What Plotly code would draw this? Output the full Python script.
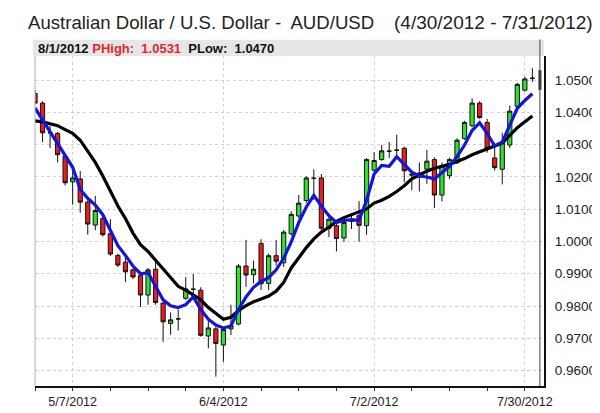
import plotly.graph_objects as go
import pandas as pd

# ---------------- data ----------------
dates = [d.strftime("%Y-%m-%d") for d in pd.bdate_range("2012-04-30", "2012-07-31")]

opens = [1.0459, 1.0429, 1.0337, 1.0335, 1.0264, 1.0185, 1.0194, 1.0122, 1.0051, 1.0071,
         1.0024, 0.9957, 0.9936, 0.9912, 0.9894, 0.9834, 0.9914, 0.9809, 0.9746, 0.9760,
         0.9824, 0.9852, 0.9849, 0.9707, 0.9729, 0.9679, 0.9729, 0.9744, 0.9924, 0.9897,
         0.9994, 0.9870, 0.9956, 0.9934, 1.0024, 1.0079, 1.0127, 1.0196, 1.0197, 1.0041,
         1.0049, 1.0011, 1.0063, 1.0080, 1.0049, 1.0221, 1.0254, 1.0280, 1.0283, 1.0289,
         1.0209, 1.0212, 1.0224, 1.0254, 1.0144, 1.0204, 1.0244, 1.0319, 1.0359, 1.0429,
         1.0369, 1.0259, 1.0224, 1.0299, 1.0419, 1.0469, 1.0506]
highs = [1.0470, 1.0435, 1.0359, 1.0340, 1.0268, 1.0218, 1.0218, 1.0128, 1.0141, 1.0084,
         1.0069, 0.9962, 0.9960, 0.9916, 0.9898, 0.9918, 0.9939, 0.9812, 0.9780, 0.9789,
         0.9889, 0.9899, 0.9858, 0.9759, 0.9735, 0.9732, 0.9804, 0.9930, 1.0005, 0.9941,
         1.0007, 0.9963, 1.0004, 1.0035, 1.0094, 1.0144, 1.0202, 1.0224, 1.0209, 1.0075,
         1.0055, 1.0065, 1.0080, 1.0125, 1.0258, 1.0277, 1.0299, 1.0309, 1.0331, 1.0294,
         1.0219, 1.0245, 1.0284, 1.0261, 1.0245, 1.0260, 1.0320, 1.0374, 1.0444, 1.0435,
         1.0380, 1.0299, 1.0337, 1.0421, 1.0492, 1.0511, 1.0537]
lows = [1.0425, 1.0308, 1.0290, 1.0245, 1.0174, 1.0114, 1.0089, 1.0021, 1.0035, 1.0015,
        0.9955, 0.9921, 0.9874, 0.9884, 0.9797, 0.9804, 0.9804, 0.9689, 0.9711, 0.9724,
        0.9819, 0.9824, 0.9705, 0.9669, 0.9581, 0.9627, 0.9710, 0.9740, 0.9859, 0.9870,
        0.9850, 0.9849, 0.9925, 0.9921, 1.0018, 1.0072, 1.0120, 1.0129, 1.0035, 1.0014,
        0.9969, 0.9999, 1.0039, 0.9999, 1.0021, 1.0215, 1.0250, 1.0259, 1.0264, 1.0184,
        1.0159, 1.0155, 1.0179, 1.0104, 1.0124, 1.0194, 1.0240, 1.0315, 1.0355, 1.0380,
        1.0275, 1.0220, 1.0177, 1.0289, 1.0409, 1.0465, 1.0494]
closes = [1.0429, 1.0337, 1.0337, 1.0269, 1.0182, 1.0197, 1.0122, 1.0054, 1.0096, 1.0021,
          0.9961, 0.9927, 0.9906, 0.9890, 0.9834, 0.9912, 0.9811, 0.9751, 0.9757, 0.9760,
          0.9853, 0.9852, 0.9709, 0.9732, 0.9684, 0.9727, 0.9739, 0.9924, 0.9896, 0.9914,
          0.9869, 0.9956, 0.9939, 1.0029, 1.0084, 1.0119, 1.0197, 1.0196, 1.0041, 1.0069,
          1.0009, 1.0059, 1.0063, 1.0050, 1.0254, 1.0251, 1.0281, 1.0280, 1.0283, 1.0219,
          1.0206, 1.0200, 1.0249, 1.0144, 1.0234, 1.0254, 1.0314, 1.0369, 1.0429, 1.0384,
          1.0289, 1.0229, 1.0309, 1.0404, 1.0487, 1.0504, 1.0506]

ma_fast = [1.0414, 1.0377, 1.0338, 1.0302, 1.0263, 1.0230, 1.0161, 1.0134, 1.0113, 1.0083,
           1.0035, 0.9987, 0.9957, 0.9924, 0.9900, 0.9903, 0.9861, 0.9819, 0.9801, 0.9795,
           0.9804, 0.9828, 0.9789, 0.9759, 0.9741, 0.9732, 0.9738, 0.9789, 0.9828, 0.9858,
           0.9876, 0.9888, 0.9912, 0.9948, 0.9999, 1.0059, 1.0107, 1.0143, 1.0110, 1.0080,
           1.0059, 1.0065, 1.0068, 1.0065, 1.0128, 1.0209, 1.0236, 1.0233, 1.0263, 1.0239,
           1.0215, 1.0203, 1.0200, 1.0194, 1.0215, 1.0233, 1.0263, 1.0299, 1.0344, 1.0368,
           1.0335, 1.0296, 1.0308, 1.0362, 1.0413, 1.0437, 1.0458]
ma_slow = [1.0374, 1.0371, 1.0365, 1.0359, 1.0347, 1.0335, 1.0314, 1.0281, 1.0245, 1.0203,
           1.0155, 1.0110, 1.0071, 1.0026, 0.9990, 0.9969, 0.9942, 0.9915, 0.9885, 0.9861,
           0.9849, 0.9834, 0.9819, 0.9795, 0.9777, 0.9759, 0.9765, 0.9786, 0.9801, 0.9813,
           0.9822, 0.9831, 0.9846, 0.9873, 0.9918, 0.9951, 0.9981, 1.0008, 1.0029, 1.0044,
           1.0062, 1.0074, 1.0083, 1.0092, 1.0101, 1.0119, 1.0128, 1.0140, 1.0155, 1.0173,
           1.0194, 1.0206, 1.0218, 1.0227, 1.0233, 1.0239, 1.0248, 1.0257, 1.0269, 1.0278,
           1.0287, 1.0296, 1.0305, 1.0329, 1.0353, 1.0371, 1.0389]

x_tick_dates = ["2012-05-07", "2012-06-04", "2012-07-02", "2012-07-30"]
x_tick_labels = ["5/7/2012", "6/4/2012", "7/2/2012", "7/30/2012"]
x_minor_dates = ["2012-04-30", "2012-05-14", "2012-05-21", "2012-05-28", "2012-06-11",
                 "2012-06-18", "2012-06-25", "2012-07-09", "2012-07-16", "2012-07-23"]
y_tick_vals = [0.96, 0.97, 0.98, 0.99, 1.00, 1.01, 1.02, 1.03, 1.04, 1.05]
y_tick_labels = ["0.9600", "0.9700", "0.9800", "0.9900", "1.0000",
                 "1.0100", "1.0200", "1.0300", "1.0400", "1.0500"]

last_date = "2012-08-01"
p_high = 1.0531
p_low = 1.0470

title_left = "Australian Dollar / U.S. Dollar -  AUD/USD"
title_right = "(4/30/2012 - 7/31/2012)"

# ---------------- figure ----------------
FONT = "Liberation Sans, Arial, sans-serif"
PLOT_W = 521.0
PLOT_H = 342.0
fig = go.Figure()

fig.add_trace(go.Candlestick(
    x=dates, open=opens, high=highs, low=lows, close=closes,
    increasing=dict(fillcolor="#2ee22e", line=dict(color="#111111", width=1)),
    decreasing=dict(fillcolor="#e81e1e", line=dict(color="#111111", width=1)),
    whiskerwidth=0, showlegend=False, hoverinfo="skip",
))
fig.add_trace(go.Scatter(x=dates, y=ma_slow, mode="lines",
                         line=dict(color="#000000", width=3.2), showlegend=False, hoverinfo="skip"))
fig.add_trace(go.Scatter(x=dates, y=ma_fast, mode="lines",
                         line=dict(color="#1414dc", width=3.2), showlegend=False, hoverinfo="skip"))
fig.add_trace(go.Scatter(x=[last_date, last_date], y=[p_low, p_high], mode="lines",
                         line=dict(color="#333333", width=3), showlegend=False, hoverinfo="skip"))

# cursor line at the last date
fig.add_shape(type="line", xref="x", yref="paper", x0=last_date, x1=last_date,
              y0=0, y1=1.05, line=dict(color="#444444", width=1), layer="above")
# header bar
fig.add_shape(type="rect", xref="paper", yref="paper", x0=-0.004, x1=1.0, y0=1.0, y1=1.049,
              fillcolor="#e6e6e6", line=dict(width=0), layer="below")
# left border
fig.add_shape(type="line", xref="paper", yref="paper", x0=0, x1=0, y0=0, y1=1,
              line=dict(color="#b0b0b0", width=1))

fig.add_annotation(xref="paper", yref="paper", x=0.0, y=1.0,
                   xshift=1, yshift=8, xanchor="left", yanchor="middle",
                   text=("<b>8/1/2012 <span style='color:#e0282c'>PHigh:  %.4f</span>"
                         "  PLow:  %.4f</b>" % (p_high, p_low)),
                   showarrow=False, font=dict(family=FONT, size=13, color="#111111"))

top_y = 1.0 + 48 / PLOT_H
fig.add_annotation(xref="paper", yref="paper", x=-9 / PLOT_W, y=top_y, yshift=0,
                   xanchor="left", yanchor="top", text=title_left, showarrow=False,
                   font=dict(family=FONT, size=18.6, color="#222222"))
fig.add_annotation(xref="paper", yref="paper", x=1.0 + 52 / PLOT_W, y=top_y, yshift=0,
                   xanchor="right", yanchor="top", text=title_right, showarrow=False,
                   font=dict(family=FONT, size=19, color="#222222"))

fig.update_layout(
    width=600, height=413,
    margin=dict(l=27, r=52, t=48, b=23),
    paper_bgcolor="white", plot_bgcolor="white",
    font=dict(family=FONT, size=12, color="#222222"),
    showlegend=False,
    boxgap=0.2,
    xaxis=dict(
        type="date",
        rangeslider=dict(visible=False),
        rangebreaks=[dict(bounds=["sat", "mon"])],
        range=["2012-04-30 00:00", "2012-08-01 13:00"],
        tickmode="array", tickvals=x_tick_dates, ticktext=x_tick_labels,
        ticks="outside", ticklen=3, tickcolor="#333333",
        showgrid=True, gridcolor="#d2d2d2", griddash="dot", gridwidth=1,
        minor=dict(tickmode="array", tickvals=x_minor_dates, ticks="outside",
                   ticklen=3, tickcolor="#333333", showgrid=False),
        showline=True, linecolor="#111111", linewidth=2,
        zeroline=False, fixedrange=True,
        tickfont=dict(size=12.5, color="#222222"),
    ),
    yaxis=dict(
        side="right",
        range=[0.9552, 1.0575],
        tickmode="array", tickvals=y_tick_vals, ticktext=y_tick_labels,
        ticks="", ticklabelstandoff=6,
        showgrid=True, gridcolor="#d2d2d2", griddash="dot", gridwidth=1,
        showline=True, linecolor="#111111", linewidth=2,
        zeroline=False, fixedrange=True,
        tickfont=dict(size=13.5, color="#222222"),
    ),
)

fig.write_html("out.html")
